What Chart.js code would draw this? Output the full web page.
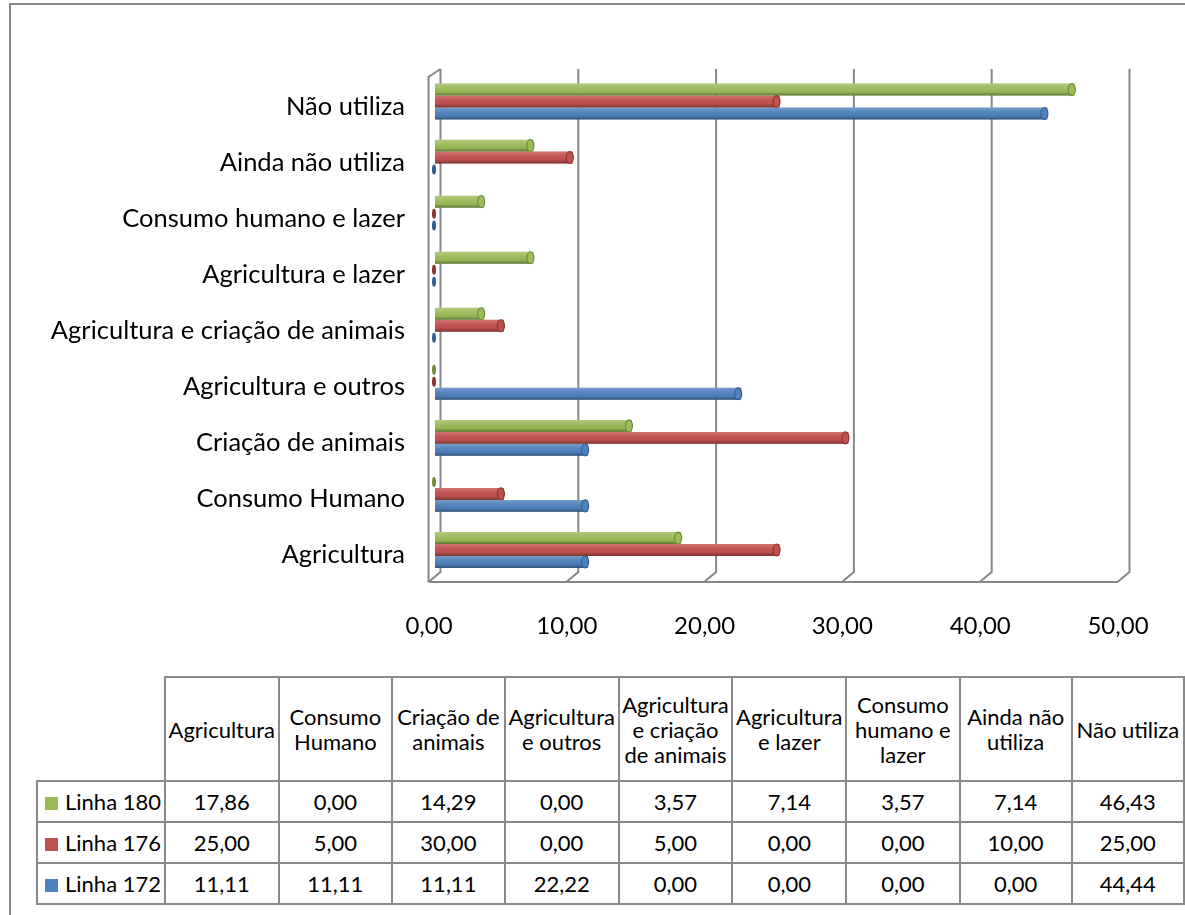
<!DOCTYPE html>
<html lang="pt">
<head>
  <meta charset="UTF-8">
  <title>Uso da água por linha</title>
  <script src="https://cdn.jsdelivr.net/npm/chart.js"></script>
  <style>
    html, body { margin: 0; padding: 0; background: #fff; }
    #wrap { position: relative; width: 1185px; height: 915px; overflow: hidden; font-family: Lato, "Open Sans", sans-serif; }
    #frame { position: absolute; left: 9px; top: 3px; width: 1300px; height: 1000px; border-left: 2px solid #878787; border-top: 2px solid #878787; }
    #myChart { position: absolute; left: 0; top: 0; }
    #dataTable { position: absolute; left: 36px; top: 676px; border-collapse: collapse; font-size: 22px; color: #000; }
    #dataTable td, #dataTable th { border: 2px solid #898989; text-align: center; padding: 0; font-weight: normal; }
    #dataTable th { height: 102px; width: 112px; line-height: 25px; }
    #dataTable th.corner { border: none; width: 127px; }
    #dataTable td { height: 39px; }
    #dataTable td.key { text-align: left; padding-left: 7px; white-space: nowrap; }
    .swatch { display: inline-block; width: 13px; height: 13px; margin-right: 7px; vertical-align: 0px; }
  </style>
</head>
<body>
  <div id="wrap">
    <div id="frame"></div>
    <canvas id="myChart" width="1185" height="660"></canvas>
    <table id="dataTable"></table>
  </div>

  <script>
    // categories, bottom to top on the chart (same order as the table columns)
    const categories = [
      'Agricultura',
      'Consumo Humano',
      'Criação de animais',
      'Agricultura e outros',
      'Agricultura e criação de animais',
      'Agricultura e lazer',
      'Consumo humano e lazer',
      'Ainda não utiliza',
      'Não utiliza'
    ];
    // header text of the table, wrapped the way the cells show it
    const headerLines = [
      ['Agricultura'],
      ['Consumo', 'Humano'],
      ['Criação de', 'animais'],
      ['Agricultura', 'e outros'],
      ['Agricultura', 'e criação', 'de animais'],
      ['Agricultura', 'e lazer'],
      ['Consumo', 'humano e', 'lazer'],
      ['Ainda não', 'utiliza'],
      ['Não utiliza']
    ];
    const linha180 = [17.86, 0.00, 14.29, 0.00, 3.57, 7.14, 3.57, 7.14, 46.43];
    const linha176 = [25.00, 5.00, 30.00, 0.00, 5.00, 0.00, 0.00, 10.00, 25.00];
    const linha172 = [11.11, 11.11, 11.11, 22.22, 0.00, 0.00, 0.00, 0.00, 44.44];
    const xTicks = [0, 10, 20, 30, 40, 50];

    const series = [
      { label: 'Linha 180', data: linha180, color: '#9bbb59', dark: '#6f8a38' },
      { label: 'Linha 176', data: linha176, color: '#c0504d', dark: '#8c3330' },
      { label: 'Linha 172', data: linha172, color: '#4f81bd', dark: '#335d8f' }
    ];

    const fmt = v => v.toFixed(2).replace('.', ',');
    const FONT = 'Lato, "Open Sans", sans-serif';

    // walls and floor of the 3-D plot box, drawn under the bars
    const boxPlugin = {
      id: 'box3d',
      beforeDatasetsDraw(chart) {
        const { ctx, chartArea: a } = chart;
        const xs = chart.scales.x;
        const back = 5.5, front = -6.5;
        ctx.save();
        ctx.strokeStyle = '#878787';
        ctx.lineWidth = 2;
        ctx.beginPath();
        xTicks.forEach(v => {
          const px = xs.getPixelForValue(v);
          ctx.moveTo(px + back, a.top - 4.5);
          ctx.lineTo(px + back, a.bottom - 6);
          ctx.lineTo(px + front, a.bottom + 4);
        });
        // floor front edge
        ctx.moveTo(xs.getPixelForValue(0) + front, a.bottom + 4);
        ctx.lineTo(xs.getPixelForValue(50) + front, a.bottom + 4);
        // left wall front edge
        const x0 = xs.getPixelForValue(0);
        ctx.moveTo(x0 + front, a.bottom + 4);
        ctx.lineTo(x0 + front, a.top + 3.5);
        ctx.lineTo(x0 + back, a.top - 4.5);
        ctx.stroke();
        ctx.restore();
      },
      // cylinder shading and end caps on every bar
      afterDatasetsDraw(chart) {
        const ctx = chart.ctx;
        chart.data.datasets.forEach((ds, di) => {
          const meta = chart.getDatasetMeta(di);
          meta.data.forEach(bar => {
            const { x, y, base, height } = bar.getProps(['x', 'y', 'base', 'height'], true);
            const top = y - height / 2;
            const left = Math.min(base, x), right = Math.max(base, x);
            ctx.save();
            if (right - left > 1) {
              const g = ctx.createLinearGradient(0, top, 0, top + height);
              g.addColorStop(0, 'rgba(255,255,255,0.22)');
              g.addColorStop(0.35, 'rgba(255,255,255,0.05)');
              g.addColorStop(0.7, 'rgba(0,0,0,0.03)');
              g.addColorStop(1, 'rgba(0,0,0,0.38)');
              ctx.fillStyle = g;
              ctx.fillRect(left, top, right - left - 3, height);
              ctx.beginPath();
              ctx.ellipse(right - 3, y, 3.5, height / 2, 0, 0, Math.PI * 2);
              ctx.fillStyle = ds.backgroundColor;
              ctx.fill();
              ctx.strokeStyle = ds.darkColor;
              ctx.lineWidth = 1.2;
              ctx.stroke();
            } else {
              ctx.beginPath();
              ctx.ellipse(left - 1, y, 2, height / 2 - 1, 0, 0, Math.PI * 2);
              ctx.fillStyle = ds.darkColor;
              ctx.fill();
            }
            ctx.restore();
          });
        });
      }
    };

    const ctx = document.getElementById('myChart').getContext('2d');
    const myChart = new Chart(ctx, {
      type: 'bar',
      data: {
        labels: categories,
        datasets: series.map(s => ({
          label: s.label,
          data: s.data,
          backgroundColor: s.color,
          darkColor: s.dark,
          borderWidth: 0,
          categoryPercentage: 0.64,
          barPercentage: 1.0
        }))
      },
      options: {
        indexAxis: 'y',
        responsive: false,
        animation: false,
        layout: { padding: { top: 73.5, right: 61, left: 0, bottom: 0 } },
        plugins: { legend: { display: false }, tooltip: { enabled: false } },
        scales: {
          x: {
            min: 0,
            max: 50,
            afterBuildTicks: scale => { scale.ticks = xTicks.map(v => ({ value: v })); },
            afterFit: scale => {
              scale.height = 82;
              scale.paddingLeft = 0;
              scale.paddingRight = 0;
            },
            grid: { display: false, drawTicks: false },
            border: { display: false },
            ticks: {
              padding: 34,
              labelOffset: -6,
              color: '#000',
              font: { family: FONT, size: 24 },
              callback: v => fmt(v)
            }
          },
          y: {
            reverse: true,
            afterFit: scale => { scale.width = 435; },
            grid: { display: false, drawTicks: false },
            border: { display: false },
            ticks: {
              padding: 30,
              labelOffset: 5,
              color: '#000',
              font: { family: FONT, size: 25.5 }
            }
          }
        }
      },
      plugins: [boxPlugin]
    });

    // data table under the chart
    const table = document.getElementById('dataTable');
    let html = '<tr><th class="corner"></th>';
    headerLines.forEach(lines => { html += '<th>' + lines.join('<br>') + '</th>'; });
    html += '</tr>';
    series.forEach(s => {
      html += '<tr><td class="key"><span class="swatch" style="background:' + s.color + '"></span>' + s.label + '</td>';
      s.data.forEach(v => { html += '<td>' + fmt(v) + '</td>'; });
      html += '</tr>';
    });
    table.innerHTML = html;
  </script>
</body>
</html>
